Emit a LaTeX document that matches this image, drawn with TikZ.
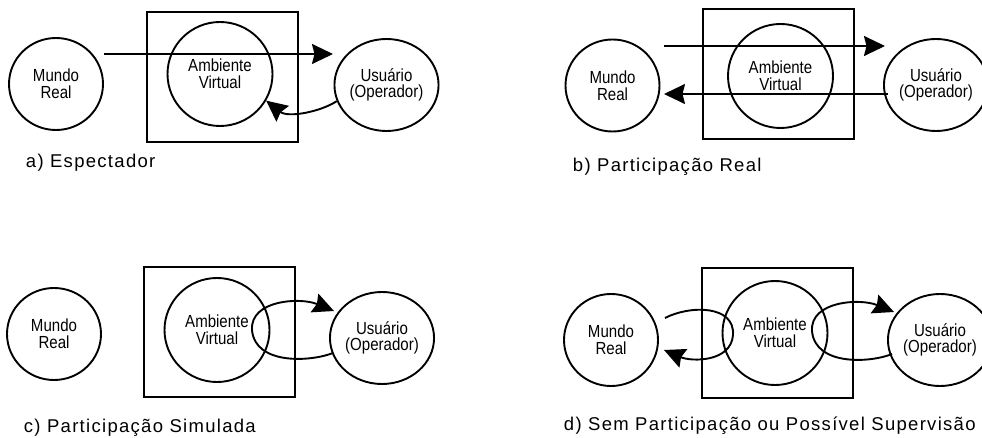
\documentclass[tikz,border=0pt]{standalone}
\usepackage{fontspec}
\setmainfont{Liberation Sans}
\newfontfamily\insidefont[FakeStretch=0.86]{Liberation Sans}
\newfontfamily\captionfont[LetterSpace=7]{Liberation Sans}
\usetikzlibrary{shapes.geometric,arrows.meta}
\begin{document}
\begin{tikzpicture}[x=1pt,y=-1pt,
  line width=1.9pt,
  place/.style={ellipse, draw, inner sep=0pt, minimum width=94pt, minimum height=92pt,
    align=center, font=\insidefont\fontsize{17.5}{16.7}\selectfont},
  envcircle/.style={place, minimum width=105pt, minimum height=104pt},
  frame/.style={rectangle, draw, inner sep=0pt, minimum width=151pt, minimum height=130pt},
  flow/.style={-{Stealth[length=21pt,width=20pt,inset=2.5pt]}},
  caption/.style={anchor=base west, inner sep=0pt,
    font=\captionfont\fontsize{18.5}{20}\selectfont}]
\useasboundingbox (0,0) rectangle (982,438);

% a) Espectador
\node[frame] (boxA) at (222.5,77) {};
\node[place] (mundoA) at (56,84) {Mundo\\Real};
\node[envcircle] (ambA) at (220,74) {Ambiente\\Virtual};
\node[place] (userA) at (386.5,85) {Usuário\\(Operador)};
\coordinate (a1s) at (104,54);
\coordinate (a1e) at (333,54);
\draw[flow] (a1s) -- (a1e);
\draw[flow] (userA.198) .. controls (320,112) and (288,118) .. (ambA.-30);
\node[caption] (capA) at (25,168) {a) Espectador};

% b) Participação Real
\node[frame] (boxB) at (778.5,74) {};
\node[place] (mundoB) at (612.5,85.5) {Mundo\\Real};
\node[envcircle] (ambB) at (780.5,76) {Ambiente\\Virtual};
\node[place] (userB) at (936,85) {Usuário\\(Operador)};
\coordinate (b1s) at (664,46);
\coordinate (b1e) at (885,46);
\coordinate (b2s) at (888,94);
\coordinate (b2e) at (664,94);
\draw[flow] (b1s) -- (b1e);
\draw[flow] (b2s) -- (b2e);
\node[caption] (capB) at (572,172) {b) Participação Real};

% c) Participação Simulada
\node[frame] (boxC) at (219.5,332) {};
\node[place] (mundoC) at (54,334) {Mundo\\Real};
\node[envcircle] (ambC) at (217,330) {Ambiente\\Virtual};
\node[place] (userC) at (382,338) {Usuário\\(Operador)};
\coordinate (c1s) at (333,353);
\coordinate (c1m) at (252,330);
\coordinate (c1e) at (334,311);
\draw[flow] (c1s) .. controls (310,362) and (255,365) .. (c1m)
                  .. controls (250,300) and (300,297) .. (c1e);
\node[caption] (capC) at (23,432) {c) Participação Simulada};

% d) Sem Participação ou Possível Supervisão
\node[frame] (boxD) at (777.5,333) {};
\node[place] (mundoD) at (611,340) {Mundo\\Real};
\node[envcircle] (ambD) at (775,333) {Ambiente\\Virtual};
\node[place] (userD) at (940,340) {Usuário\\(Operador)};
\coordinate (d1s) at (892,354);
\coordinate (d1m) at (812,331);
\coordinate (d1e) at (894,312);
\draw[flow] (d1s) .. controls (870,363) and (815,366) .. (d1m)
                  .. controls (810,301) and (860,298) .. (d1e);
\coordinate (d2s) at (665,318);
\coordinate (d2m) at (733,335);
\coordinate (d2e) at (664,350);
\draw[flow] (d2s) .. controls (690,305) and (735,305) .. (d2m)
                  .. controls (731,362) and (692,362) .. (d2e);
\node[caption] (capD) at (563,430) {d) Sem Participação ou Possível Supervisão};
\end{tikzpicture}
\end{document}
